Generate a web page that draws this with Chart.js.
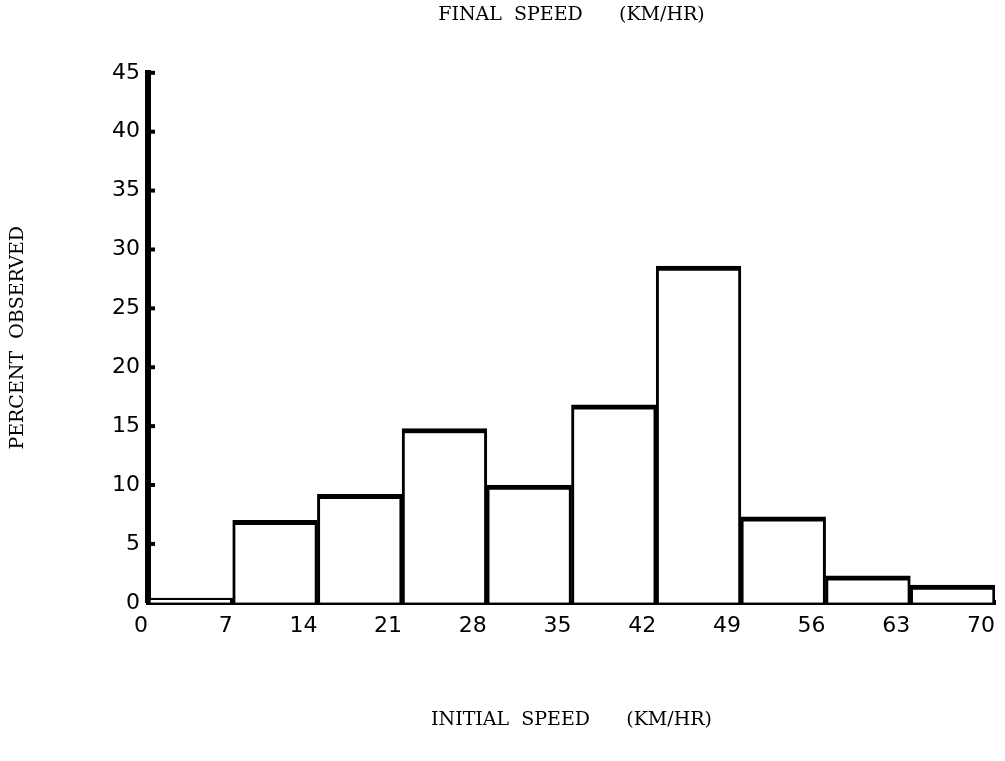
<!DOCTYPE html>
<html>
<head>
<meta charset="utf-8">
<script src="https://cdn.jsdelivr.net/npm/chart.js@4.4.1/dist/chart.umd.min.js"></script>
<style>
  body { margin: 0; background: #fff; }
  #wrap { width: 1005px; height: 761px; }
</style>
</head>
<body>
<div id="wrap"><canvas id="histo"></canvas></div>
<script>
// bins of 7 km/hr, from 0 to 70
const binStarts = [0, 7, 14, 21, 28, 35, 42, 49, 56, 63];
const binWidth = 7;
const percentObserved = [0.4, 7, 9.2, 14.8, 10, 16.8, 28.6, 7.3, 2.3, 1.5];
const yTicks = [0, 5, 10, 15, 20, 25, 30, 35, 40, 45];
const xTicks = [0, 7, 14, 21, 28, 35, 42, 49, 56, 63, 70];

const titleFont = { family: "'DejaVu Serif', 'Liberation Serif', serif", size: 19, weight: 'normal' };
const tickFont = { family: "'DejaVu Sans', Verdana, sans-serif", size: 22 };

// small tick marks on the inner side of the y axis
const innerTicks = {
    id: 'innerTicks',
    afterDraw(chart) {
        const ctx = chart.ctx;
        const y = chart.scales.y;
        const x0 = chart.chartArea.left;
        ctx.save();
        ctx.strokeStyle = '#000';
        ctx.lineWidth = 4;
        y.ticks.forEach(t => {
            if (t.value === 0) return;
            const py = y.getPixelForValue(t.value);
            ctx.beginPath();
            ctx.moveTo(x0, py);
            ctx.lineTo(x0 + 7, py);
            ctx.stroke();
        });
        ctx.restore();
    }
};

const ctx = document.getElementById('histo').getContext('2d');
new Chart(ctx, {
    type: 'bar',
    data: {
        datasets: [{
            data: binStarts.map((s, i) => ({ x: s + binWidth / 2, y: percentObserved[i] })),
            backgroundColor: '#fff',
            borderColor: '#000',
            borderWidth: { top: 5, left: 3, right: 3, bottom: 0 },
            borderSkipped: 'bottom',
            barPercentage: 1,
            categoryPercentage: 1
        }]
    },
    options: {
        responsive: true,
        maintainAspectRatio: false,
        animation: false,
        layout: { padding: { left: 0, right: 8, top: 0, bottom: 30 } },
        plugins: {
            legend: { display: false },
            tooltip: { enabled: false },
            title: {
                display: true,
                fullSize: false,
                text: 'FINAL  SPEED      (KM/HR)',
                color: '#000',
                font: titleFont,
                padding: { top: 4, bottom: 46 }
            }
        },
        scales: {
            x: {
                type: 'linear',
                min: 0,
                max: 70,
                offset: false,
                afterBuildTicks: axis => { axis.ticks = xTicks.map(v => ({ value: v })); },
                grid: { display: false, drawTicks: false, offset: false },
                border: { display: true, color: '#000', width: 5 },
                ticks: { color: '#000', font: tickFont, padding: 10, align: 'end', maxRotation: 0, autoSkip: false },
                title: {
                    display: true,
                    text: 'INITIAL  SPEED      (KM/HR)',
                    color: '#000',
                    font: titleFont,
                    padding: { top: 59, bottom: 0 }
                }
            },
            y: {
                min: 0,
                max: 45,
                afterBuildTicks: axis => { axis.ticks = yTicks.map(v => ({ value: v })); },
                afterFit: scale => { scale.width = 148; },
                grid: { display: false, drawTicks: false },
                border: { display: true, color: '#000', width: 6 },
                ticks: { color: '#000', font: tickFont, padding: 8 },
                title: {
                    display: true,
                    text: 'PERCENT  OBSERVED',
                    color: '#000',
                    font: titleFont,
                    padding: { top: 7, bottom: 0 }
                }
            }
        }
    },
    plugins: [innerTicks]
});
</script>
</body>
</html>
